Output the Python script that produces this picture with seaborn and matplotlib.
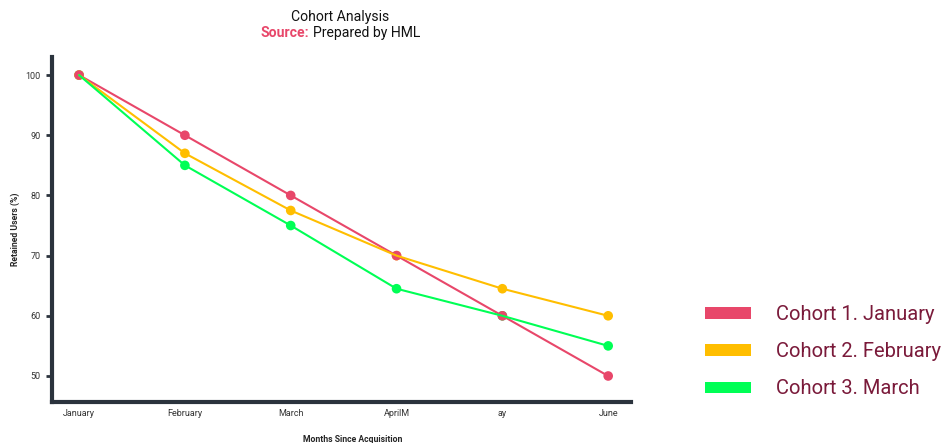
import pandas as pd
import matplotlib.pyplot as plt
import seaborn as sns
from matplotlib.patches import Patch

# Data
months = ['January', 'February', 'March', 'AprilM', 'ay', 'June']
cohort_jan = [100, 90, 80, 70, 60, 50]
cohort_feb = [100, 87, 77.5, 70, 64.5, 60]
cohort_mar = [100, 85, 75, 64.5, 60, 55]
cohort_names = ['Cohort 1. January', 'Cohort 2. February', 'Cohort 3. March']
colors = ['#E8476A', '#FFBE00', '#00FF55']

df = pd.concat([
    pd.DataFrame({'month': months, 'retained': vals, 'cohort': name})
    for name, vals in zip(cohort_names, [cohort_jan, cohort_feb, cohort_mar])
], ignore_index=True)

sns.set_style('white')
plt.rcParams['font.family'] = ['Roboto', 'DejaVu Sans']

fig = plt.figure(figsize=(9.44, 4.43), dpi=100)
ax = fig.add_axes([0.0546, 0.0926, 0.614, 0.7787])

palette = dict(zip(cohort_names, colors))
# markers first (green, yellow, red so red sits on top), lines above them
for name in cohort_names[::-1]:
    sub = df[df['cohort'] == name]
    sns.scatterplot(data=sub, x='month', y='retained', color=palette[name],
                    s=48, edgecolor='none', ax=ax, zorder=2, legend=False)
sns.lineplot(data=df, x='month', y='retained', hue='cohort', palette=palette,
             hue_order=cohort_names, linewidth=1.5, ax=ax, legend=False,
             zorder=3, sort=False)

ax.set_xlim(-0.26, 5.217)
ax.set_ylim(45.68, 103.0)
ax.set_yticks([50, 60, 70, 80, 90, 100])

for side in ['top', 'right']:
    ax.spines[side].set_visible(False)
for side in ['left', 'bottom']:
    ax.spines[side].set_linewidth(3)
    ax.spines[side].set_color('#2B333D')

ax.tick_params(axis='y', left=True, length=4.3, width=2, color='#2B333D',
               labelsize=6.5, labelcolor='#333333', pad=3.6)
ax.tick_params(axis='x', bottom=False, length=0, labelsize=6.5,
               labelcolor='#333333', pad=4.7)

ax.set_xlabel('Months Since Acquisition', fontsize=6.2, fontweight='bold', labelpad=13)
ax.set_ylabel('Retained Users (%)', fontsize=6.2, fontweight='bold', labelpad=4)
ax.xaxis.set_label_coords(0.52, -0.095)

fig.text(0.3602, 0.9616, 'Cohort Analysis', ha='center', va='center',
         fontsize=10.1, color='#111111')
fig.text(0.3273, 0.9255, 'Source:', ha='right', va='center', fontsize=10.1,
         color='#E8476A', fontweight='bold')
fig.text(0.3316, 0.9255, 'Prepared by HML', ha='left', va='center',
         fontsize=10.1, color='#111111')

handles = [Patch(facecolor=c, edgecolor='none') for c in colors]
leg = fig.legend(handles, cohort_names, loc='upper left', bbox_to_anchor=(0.728, 0.352),
                 frameon=False, fontsize=14.5, handlelength=2.25, handleheight=0.5,
                 handletextpad=1.25, labelspacing=0.9)
for t in leg.get_texts():
    t.set_color('#7A1A3A')

fig.savefig('out.png', dpi=100)
